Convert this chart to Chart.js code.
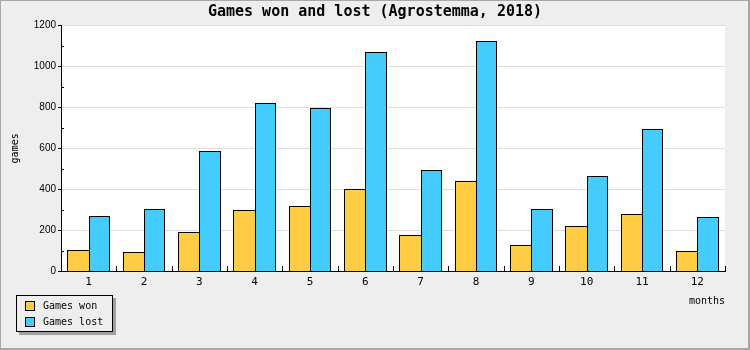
<!DOCTYPE html>
<html>
<head>
<meta charset="utf-8">
<script src="https://cdn.jsdelivr.net/npm/chart.js@4"></script>
<style>
  body { margin: 0; background: #eeeeee; }
  #wrap { width: 750px; height: 350px; }
</style>
</head>
<body>
<div id="wrap"><canvas id="grafico" width="750" height="350"></canvas></div>
<script>
// months on the x axis and the two series
const months = ["1", "2", "3", "4", "5", "6", "7", "8", "9", "10", "11", "12"];
const gamesWon = [105, 95, 193, 300, 320, 403, 178, 438, 129, 222, 278, 96];
const gamesLost = [271, 305, 585, 820, 795, 1069, 492, 1123, 305, 464, 694, 263];
const seriesNames = ["Games won", "Games lost"];
const seriesColors = ["#ffcc44", "#44ccff"];
const yMin = 0, yMax = 1200, yStep = 200, yMinorStep = 100;

const mono = '"DejaVu Sans Mono", monospace';

// grey frame, white plot area
const fondo = {
  id: "fondo",
  beforeDraw(chart) {
    const { ctx, width, height, chartArea: a } = chart;
    ctx.save();
    ctx.fillStyle = "#eeeeee";
    ctx.fillRect(0, 0, width, height);
    ctx.fillStyle = "#ffffff";
    ctx.fillRect(a.left, a.top, a.right - a.left, a.bottom - a.top);
    ctx.strokeStyle = "#a8a8a8";
    ctx.lineWidth = 1;
    ctx.strokeRect(0.5, 0.5, width - 1, height - 1);
    ctx.fillStyle = "#a8a8a8";
    ctx.fillRect(width - 2, 0, 2, height);
    ctx.fillRect(0, height - 2, width, 2);
    ctx.restore();
  },
};

// title centred on the whole canvas, bars snapped to whole pixels
const ajuste = {
  id: "ajuste",
  afterLayout(chart) {
    const t = chart.titleBlock;
    if (t) {
      t.left = 0;
      t.right = chart.width;
      t.width = chart.width;
    }
  },
  afterDatasetsUpdate(chart) {
    chart.data.datasets.forEach((ds, i) => {
      chart.getDatasetMeta(i).data.forEach((el) => {
        const l = Math.round(el.x - el.width / 2);
        const r = Math.round(el.x + el.width / 2);
        el.x = (l + r) / 2;
        el.width = r - l;
        el.y = Math.round(el.y);
        el.base = Math.round(el.base);
      });
    });
  },
};

// small inner ticks: minor ticks on y, group separators on x
const marcas = {
  id: "marcas",
  afterDatasetsDraw(chart) {
    const { ctx, chartArea: a } = chart;
    const x = chart.scales.x, y = chart.scales.y;
    ctx.save();
    ctx.strokeStyle = "#000";
    ctx.lineWidth = 1;
    ctx.beginPath();
    for (let v = yMin + yMinorStep; v < yMax; v += yStep) {
      const py = Math.round(y.getPixelForValue(v)) + 0.5;
      ctx.moveTo(a.left, py);
      ctx.lineTo(a.left + 3, py);
    }
    for (let i = 0; i <= months.length; i++) {
      const px = Math.round(x.getPixelForValue(i - 0.5)) + 0.5;
      ctx.moveTo(px, a.bottom);
      ctx.lineTo(px, a.bottom - 5);
    }
    ctx.stroke();
    ctx.restore();
  },
};

// boxed legend with shadow in the bottom-left corner
const leyenda = {
  id: "leyenda",
  afterDraw(chart) {
    const { ctx } = chart;
    const bx = 16, by = 295, bw = 97, bh = 37;
    ctx.save();
    ctx.fillStyle = "#a0a0a0";
    ctx.fillRect(bx + 3, by + 3, bw, bh);
    ctx.fillStyle = "#eeeeee";
    ctx.fillRect(bx, by, bw, bh);
    ctx.strokeStyle = "#000";
    ctx.lineWidth = 1;
    ctx.strokeRect(bx + 0.5, by + 0.5, bw - 1, bh - 1);
    ctx.font = "10px " + mono;
    ctx.textBaseline = "middle";
    chart.data.datasets.forEach((ds, i) => {
      const ry = by + 6 + i * 16;
      ctx.fillStyle = ds.backgroundColor;
      ctx.fillRect(bx + 9, ry, 10, 10);
      ctx.strokeRect(bx + 9.5, ry + 0.5, 9, 9);
      ctx.fillStyle = "#000";
      ctx.fillText(ds.label, bx + 27, ry + 5.5);
    });
    ctx.restore();
  },
};

// the won bar leaves its right edge to the lost bar so they share one line
const bordes = [
  { top: 1, left: 1, right: 0, bottom: 0 },
  { top: 1, left: 1, right: 1, bottom: 0 },
];

new Chart(document.getElementById("grafico"), {
  type: "bar",
  data: {
    labels: months,
    datasets: seriesNames.map((name, i) => ({
      label: name,
      data: i === 0 ? gamesWon : gamesLost,
      backgroundColor: seriesColors[i],
      borderColor: "#000",
      borderWidth: bordes[i],
      borderSkipped: false,
      inflateAmount: 0,
      categoryPercentage: 0.77,
      barPercentage: 1,
    })),
  },
  options: {
    responsive: false,
    animation: false,
    devicePixelRatio: 1,
    layout: { padding: { top: 0, left: 0, right: 25, bottom: 42 } },
    plugins: {
      legend: { display: false },
      tooltip: { enabled: false },
      title: {
        display: true,
        text: "Games won and lost (Agrostemma, 2018)",
        color: "#000",
        font: { family: mono, size: 15, weight: "bold" },
        padding: { top: 3, bottom: 4.7 },
      },
    },
    scales: {
      x: {
        grid: { display: false, drawTicks: false },
        border: { color: "#000", width: 1 },
        ticks: { color: "#000", font: { family: mono, size: 11 }, padding: 5 },
        title: {
          display: true,
          text: "months",
          align: "end",
          color: "#000",
          font: { family: mono, size: 10 },
          padding: { top: 0, bottom: 1 },
        },
        afterFit: (s) => { s.height = 37; },
      },
      y: {
        min: yMin,
        max: yMax,
        grid: {
          color: (c) => (c.tick && c.tick.value === 0 ? "rgba(0,0,0,0)" : "#dddddd"),
          tickColor: "#000",
          tickLength: 3,
        },
        border: { color: "#000", width: 1 },
        ticks: {
          stepSize: yStep,
          color: "#000",
          font: { family: '"Liberation Sans", sans-serif', size: 10 },
          padding: 2,
          callback: (v) => String(v),
        },
        title: {
          display: true,
          text: "games",
          color: "#000",
          font: { family: mono, size: 10 },
          padding: { top: 9.5, bottom: 0 },
        },
        afterFit: (s) => { s.width = 61; },
      },
    },
  },
  plugins: [fondo, ajuste, marcas, leyenda],
});
</script>
</body>
</html>
